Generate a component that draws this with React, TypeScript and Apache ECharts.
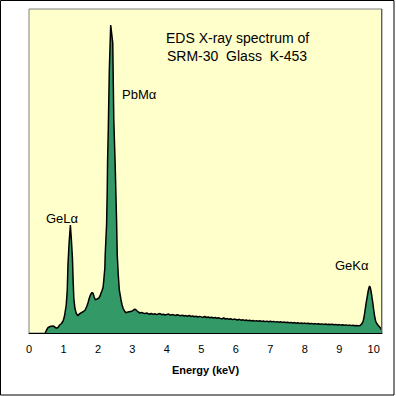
import React, { useEffect, useRef } from "react";
import * as echarts from "echarts";

// Energy (keV) and counts
const peakRegion: [number, number][] = [
  [0.47, 0], [0.51, 30], [0.55, 53], [0.61, 65], [0.70, 70], [0.75, 60], [0.79, 47],
  [0.84, 55], [0.89, 80], [0.94, 95], [0.99, 120], [1.03, 170], [1.08, 280], [1.11, 430],
  [1.13, 680], [1.16, 880], [1.20, 1080], [1.23, 930], [1.26, 750], [1.28, 530], [1.30, 350],
  [1.33, 250], [1.37, 197], [1.42, 173], [1.46, 190], [1.52, 203], [1.58, 215], [1.63, 230],
  [1.68, 270], [1.71, 300], [1.75, 350], [1.79, 387], [1.83, 405], [1.86, 397], [1.89, 360],
  [1.93, 330], [1.97, 340], [2.02, 347], [2.06, 370], [2.09, 400], [2.12, 425], [2.15, 460],
  [2.17, 530], [2.20, 650], [2.21, 780], [2.23, 930], [2.25, 1080], [2.27, 1430], [2.28, 1730],
  [2.30, 2030], [2.33, 2630], [2.37, 3080], [2.43, 2900], [2.44, 2630], [2.46, 2130],
  [2.50, 1680], [2.54, 1130], [2.56, 780], [2.59, 580], [2.62, 430], [2.67, 330], [2.70, 280],
  [2.73, 247], [2.78, 215], [2.81, 203], [2.85, 208], [2.90, 212], [2.95, 216], [3.00, 220],
  [3.04, 232], [3.07, 237], [3.10, 233], [3.13, 222], [3.17, 210], [3.22, 200], [3.27, 206],
  [3.32, 198], [3.37, 195], [3.42, 200], [3.46, 192],
];

const backgroundRegion: [number, number][] = [
  [3.50, 188], [3.55, 195], [3.60, 186], [3.65, 192], [3.70, 184], [3.75, 190], [3.80, 194],
  [3.85, 183], [3.90, 188], [3.95, 180], [4.00, 186], [4.05, 190], [4.10, 178], [4.15, 184],
  [4.20, 181], [4.25, 175], [4.30, 183], [4.35, 177], [4.40, 172], [4.45, 179], [4.50, 170],
  [4.55, 174], [4.60, 168], [4.65, 176], [4.70, 165], [4.75, 170], [4.80, 163], [4.85, 168],
  [4.90, 160], [4.95, 166], [5.00, 161], [5.05, 158], [5.10, 165], [5.15, 155], [5.20, 160],
  [5.25, 152], [5.30, 157], [5.35, 150], [5.40, 155], [5.45, 148], [5.50, 152], [5.55, 146],
  [5.60, 142], [5.65, 150], [5.70, 140], [5.75, 144], [5.80, 137], [5.85, 142], [5.90, 134],
  [5.95, 139], [6.00, 135], [6.05, 130], [6.10, 137], [6.15, 128], [6.20, 132], [6.25, 126],
  [6.30, 130], [6.35, 123], [6.40, 127], [6.45, 121], [6.50, 125], [6.55, 119], [6.60, 124],
  [6.65, 118], [6.70, 122], [6.75, 116], [6.80, 120], [6.85, 114], [6.90, 119], [6.95, 113],
  [7.00, 117], [7.05, 112], [7.10, 116], [7.15, 109], [7.20, 114], [7.25, 108], [7.30, 112],
  [7.35, 106], [7.40, 110], [7.45, 104], [7.50, 108], [7.55, 103], [7.60, 106], [7.65, 100],
  [7.70, 104], [7.75, 98], [7.80, 102], [7.85, 96], [7.90, 100], [7.95, 95], [8.00, 99],
  [8.05, 94], [8.10, 97], [8.15, 92], [8.20, 96], [8.25, 90], [8.30, 94], [8.35, 89],
  [8.40, 92], [8.45, 87], [8.50, 91], [8.55, 86], [8.60, 90], [8.65, 85], [8.70, 88],
  [8.75, 84], [8.80, 87], [8.85, 82], [8.90, 86], [8.95, 80], [9.00, 84], [9.05, 79],
  [9.10, 82], [9.15, 77], [9.20, 81], [9.25, 76], [9.30, 79], [9.35, 74], [9.40, 77],
  [9.45, 73], [9.50, 76], [9.55, 72], [9.60, 74], [9.65, 90],
];

const geKRegion: [number, number][] = [
  [9.69, 113], [9.72, 160], [9.75, 230], [9.78, 300], [9.81, 360], [9.84, 420], [9.86, 450],
  [9.88, 470], [9.90, 455], [9.92, 420], [9.94, 380], [9.97, 310], [10.00, 230], [10.03, 160],
  [10.06, 113], [10.09, 95], [10.12, 80], [10.17, 60], [10.20, 47], [10.23, 30],
];

const xTicks = [0, 1, 2, 3, 4, 5, 6, 7, 8, 9, 10];
const titleLines = ["EDS X-ray spectrum of", "SRM-30  Glass  K-453"];
const peakLabels = ["PbMα", "GeLα", "GeKα"];

const FONT = "'Liberation Sans', Arial, sans-serif";

export default function App() {
  const ref = useRef<HTMLDivElement>(null);
  useEffect(() => {
    if (!ref.current) return;
    const chart = echarts.init(ref.current, null, { renderer: "svg" });
    const data = [...peakRegion, ...backgroundRegion, ...geKRegion];
    const label = (x: number, y: number, text: string, size: number) => ({
      type: "text",
      x,
      y,
      style: {
        text,
        fill: "#000",
        font: `${size}px ${FONT}`,
        textAlign: "left",
        textVerticalAlign: "middle",
      },
      z: 100,
    });
    chart.setOption({
      animation: false,
      backgroundColor: "#ffffff",
      grid: {
        left: 29,
        right: 14,
        top: 9,
        bottom: 63,
        show: true,
        backgroundColor: "#FFFFCC",
        borderColor: "#808080",
        borderWidth: 1,
      },
      xAxis: {
        type: "value",
        min: 0,
        max: 10.24,
        interval: 1,
        name: "Energy (keV)",
        nameLocation: "middle",
        nameGap: 31,
        nameTextStyle: { fontFamily: FONT, fontSize: 11, fontWeight: "bold", color: "#000" },
        axisLine: { show: true, lineStyle: { color: "#000", width: 1 } },
        axisTick: { show: false },
        splitLine: { show: false },
        axisLabel: {
          fontFamily: FONT,
          fontSize: 11,
          color: "#000",
          margin: 10,
          formatter: (v: number) => (xTicks.includes(Math.round(v * 1000) / 1000) ? String(v) : ""),
        },
      },
      yAxis: {
        type: "value",
        min: 0,
        max: 3240,
        show: false,
      },
      series: [
        {
          type: "line",
          data,
          symbol: "none",
          lineStyle: { color: "#000", width: 1.5 },
          areaStyle: { color: "#339966", opacity: 1 },
          z: 2,
        },
      ],
      graphic: [
        {
          type: "rect",
          shape: { x: 0.5, y: 0.5, width: 393.5, height: 394.5 },
          style: { fill: "none", stroke: "#000", lineWidth: 1 },
          z: 100,
        },
        {
          type: "line",
          shape: { x1: 381.5, y1: 9, x2: 381.5, y2: 333 },
          style: { stroke: "#606060", lineWidth: 1 },
          z: 100,
        },
        label(166, 38, titleLines[0], 14),
        label(167, 56, titleLines[1], 14),
        label(122, 94, peakLabels[0], 13),
        label(46, 218, peakLabels[1], 13),
        label(335, 265, peakLabels[2], 13),
      ],
    });
    return () => chart.dispose();
  }, []);
  return (
    <div
      ref={ref}
      style={{ position: "fixed", left: 0, top: 0, width: 396, height: 396 }}
    />
  );
}
